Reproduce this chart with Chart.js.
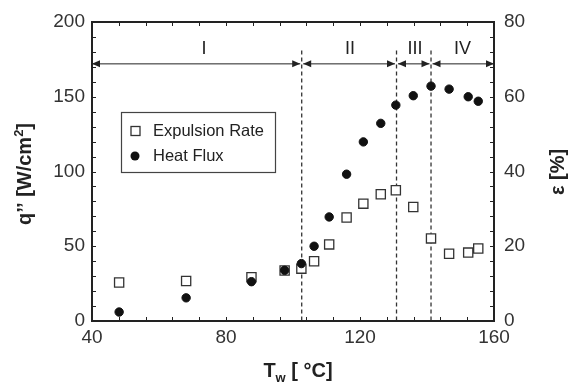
<!DOCTYPE html>
<html>
<head>
<meta charset="utf-8">
<script src="https://cdn.jsdelivr.net/npm/chart.js@4.4.0/dist/chart.umd.min.js"></script>
<style>
html,body{margin:0;padding:0;background:#fff}
</style>
</head>
<body>
<canvas id="chart" width="574" height="384"></canvas>
<script>
// wall temperature [°C], shared by both series
const tw=[48.1,68.1,87.6,97.5,102.5,106.3,110.8,116.0,121.0,126.2,130.7,135.9,141.2,146.6,152.3,155.3];
// heat flux q'' [W/cm2] (left axis)
const heatFlux=[6.0,15.5,26.3,33.9,38.4,50.0,69.6,98.2,119.8,132.2,144.4,150.7,157.1,155.1,150.0,147.0];
// expulsion rate eps [%] (right axis)
const expulsion=[10.3,10.7,11.7,13.5,14.0,16.0,20.5,27.7,31.4,33.9,35.0,30.5,22.1,18.0,18.3,19.4];

const regionBounds=[102.6,130.9,141.2];
const regionNames=["I","II","III","IV"];
const regionLabelX=[73.4,117.0,136.4,150.6];
const arrowLevel=172, labelLevel=182, dashTop=181;

const FONT='"Liberation Sans", Arial, Helvetica, sans-serif';
const INK="#222";

function arrowHead(ctx,x,y,dir){
 ctx.beginPath();
 ctx.moveTo(x,y);
 ctx.lineTo(x-dir*8,y-3.5);
 ctx.lineTo(x-dir*8,y+3.5);
 ctx.closePath();
 ctx.fill();
}

// draws text pieces [text, size, dy] centred on (0,0) in current transform
function drawPieces(ctx,pieces,weight){
 let w=0;
 pieces.forEach(p=>{ctx.font=weight+" "+p[1]+"px "+FONT;p.w=ctx.measureText(p[0]).width;w+=p.w;});
 let x=-w/2;
 ctx.textAlign="left";ctx.textBaseline="alphabetic";
 pieces.forEach(p=>{ctx.font=weight+" "+p[1]+"px "+FONT;ctx.fillText(p[0],x,p[2]);x+=p.w;});
}

const decor={
 id:"decor",
 beforeDatasetsDraw(chart){
   const {ctx,chartArea:a,scales:{x,y}}=chart;
   ctx.save();
   ctx.strokeStyle="#333";ctx.lineWidth=1.3;ctx.setLineDash([4,3]);
   regionBounds.forEach(b=>{
     const px=x.getPixelForValue(b);
     ctx.beginPath();ctx.moveTo(px,y.getPixelForValue(dashTop));ctx.lineTo(px,a.bottom);ctx.stroke();
   });
   ctx.setLineDash([]);
   // arrows
   const edges=[40,...regionBounds,160];
   const ay=y.getPixelForValue(arrowLevel);
   ctx.strokeStyle=INK;ctx.fillStyle=INK;ctx.lineWidth=1;
   for(let i=0;i<edges.length-1;i++){
     const x0=x.getPixelForValue(edges[i])+(i===0?0:1.5);
     const x1=x.getPixelForValue(edges[i+1])-(i===edges.length-2?0:1.5);
     ctx.beginPath();ctx.moveTo(x0,ay);ctx.lineTo(x1,ay);ctx.stroke();
     arrowHead(ctx,x0,ay,-1);arrowHead(ctx,x1,ay,1);
   }
   // region labels
   ctx.font="18px "+FONT;ctx.textAlign="center";ctx.textBaseline="middle";ctx.fillStyle=INK;
   regionNames.forEach((n,i)=>ctx.fillText(n,x.getPixelForValue(regionLabelX[i]),y.getPixelForValue(labelLevel)));
   ctx.restore();
 },
 afterDraw(chart){
   const {ctx,chartArea:a,scales:{x,y,y2}}=chart;
   ctx.save();
   // inward ticks
   ctx.strokeStyle=INK;ctx.lineWidth=1;
   for(let v=48;v<160;v+=8){
     const px=Math.round(x.getPixelForValue(v))+0.5;
     ctx.beginPath();ctx.moveTo(px,a.bottom);ctx.lineTo(px,a.bottom-4);ctx.moveTo(px,a.top);ctx.lineTo(px,a.top+4);ctx.stroke();
   }
   for(let v=10;v<200;v+=10){
     const py=Math.round(y.getPixelForValue(v))+0.5;
     ctx.beginPath();ctx.moveTo(a.left,py);ctx.lineTo(a.left+4,py);ctx.moveTo(a.right,py);ctx.lineTo(a.right-4,py);ctx.stroke();
   }
   // frame
   ctx.lineWidth=2;
   ctx.strokeRect(a.left,a.top,a.right-a.left,a.bottom-a.top);
   // legend
   const ds=chart.data.datasets;
   ctx.lineWidth=1.2;ctx.strokeStyle="#444";
   ctx.strokeRect(121.5,112.5,154,60);
   ctx.fillStyle="#fff";ctx.strokeStyle=ds[0].borderColor;ctx.lineWidth=ds[0].borderWidth;
   ctx.fillRect(131,126.5,9,9);ctx.strokeRect(131,126.5,9,9);
   ctx.fillStyle=ds[1].backgroundColor;
   ctx.beginPath();ctx.arc(135,156,4.5,0,Math.PI*2);ctx.fill();
   ctx.fillStyle=INK;ctx.font="16.5px "+FONT;ctx.textAlign="left";ctx.textBaseline="middle";
   ctx.fillText(ds[0].label,153,131);
   ctx.fillText(ds[1].label,153,156);
   // axis titles
   ctx.fillStyle=INK;
   ctx.save();ctx.translate(31,174);ctx.rotate(-Math.PI/2);
   drawPieces(ctx,[["q’’ [W/cm",20,0],["2",13,-8],["]",20,0]],"bold");
   ctx.restore();
   ctx.save();ctx.translate(564,172);ctx.rotate(-Math.PI/2);
   drawPieces(ctx,[["ε [%]",20,0]],"bold");
   ctx.restore();
   ctx.save();ctx.translate(298,377);
   drawPieces(ctx,[["T",20,0],["w",13,5],[" [ °C]",20,0]],"bold");
   ctx.restore();
   ctx.restore();
 }
};

const tickFont={family:FONT,size:19};

new Chart(document.getElementById("chart"),{
 type:"scatter",
 data:{datasets:[
   {label:"Expulsion Rate",data:tw.map((v,i)=>({x:v,y:expulsion[i]})),yAxisID:"y2",
    pointStyle:"rect",pointRadius:6.5,backgroundColor:"#fff",borderColor:"#333",borderWidth:1.3,order:1},
   {label:"Heat Flux",data:tw.map((v,i)=>({x:v,y:heatFlux[i]})),yAxisID:"y",
    pointStyle:"circle",pointRadius:4.2,backgroundColor:"#111",borderColor:"#111",borderWidth:1,order:0}
 ]},
 options:{
   responsive:false,animation:false,devicePixelRatio:1,
   layout:{padding:{top:22,left:0,right:0,bottom:0}},
   plugins:{legend:{display:false},tooltip:{enabled:false}},
   scales:{
     x:{type:"linear",min:40,max:160,
        ticks:{stepSize:40,font:tickFont,color:"#333",padding:5,maxRotation:0},
        grid:{display:false,drawTicks:false},border:{display:false},
        afterFit(s){s.height=63;}},
     y:{type:"linear",position:"left",min:0,max:200,
        ticks:{stepSize:50,font:tickFont,color:"#333",padding:7},
        grid:{display:false,drawTicks:false},border:{display:false},
        afterFit(s){s.width=92;}},
     y2:{type:"linear",position:"right",min:0,max:80,
        ticks:{stepSize:20,font:tickFont,color:"#333",padding:10},
        grid:{display:false,drawTicks:false},border:{display:false},
        afterFit(s){s.width=80;}}
   }
 },
 plugins:[decor]
});
</script>
</body>
</html>
